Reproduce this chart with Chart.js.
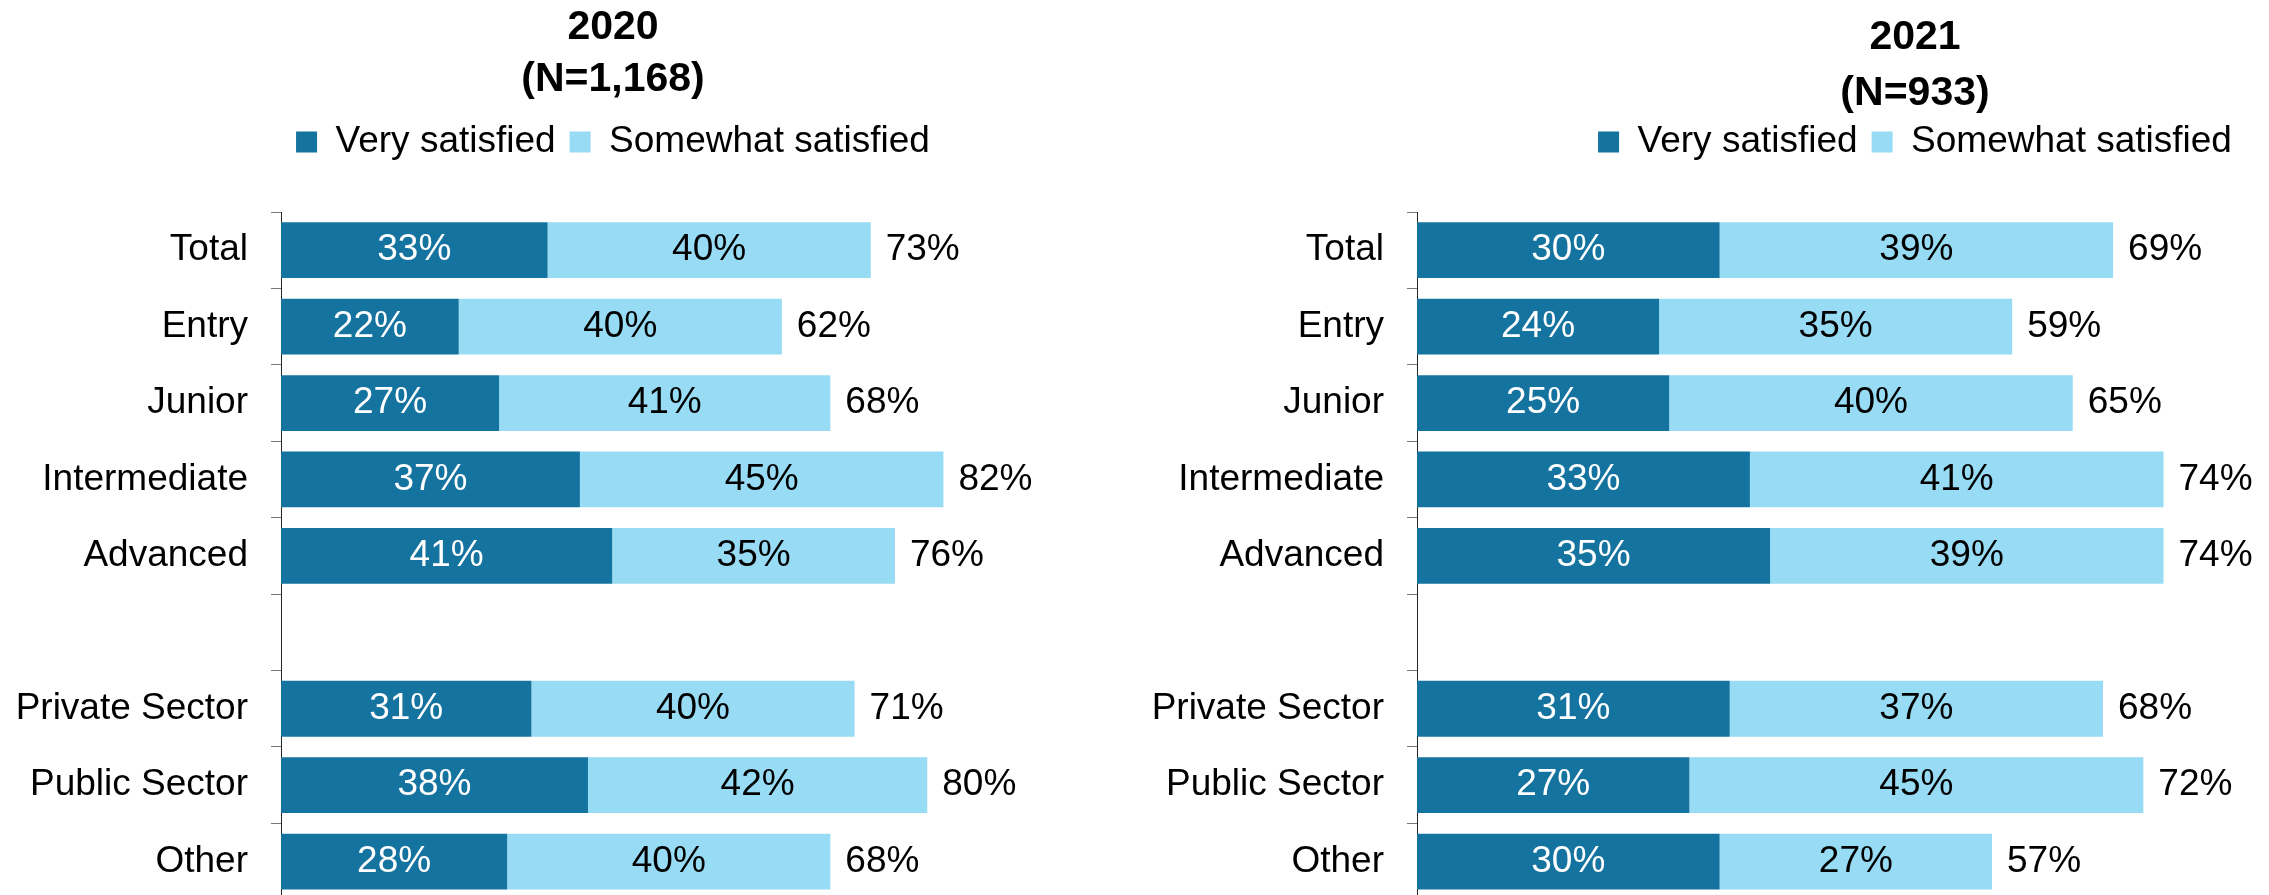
<!DOCTYPE html>
<html>
<head>
<meta charset="utf-8">
<title>Satisfaction 2020 vs 2021</title>
<script src="https://cdn.jsdelivr.net/npm/chart.js@4.4.1/dist/chart.umd.min.js"></script>
<style>
  html, body { margin: 0; padding: 0; background: #fff; overflow: hidden; width: 2269px; height: 895px; }
  canvas { position: absolute; top: 0; }
  #chart-2020 { left: 0; }
  #chart-2021 { left: 1152px; }
</style>
</head>
<body>
<!-- canvases are taller than the page: the axis runs off the bottom edge like in the original -->
<canvas id="chart-2020" width="1210" height="945"></canvas>
<canvas id="chart-2021" width="1526" height="945"></canvas>
<script>
const categories = ["Total", "Entry", "Junior", "Intermediate", "Advanced", "", "Private Sector", "Public Sector", "Other"];
const seriesNames = ["Very satisfied", "Somewhat satisfied"];

const verySatisfied2020 = [33, 22, 27, 37, 41, null, 31, 38, 28];
const somewhatSatisfied2020 = [40, 40, 41, 45, 35, null, 40, 42, 40];
const total2020 = [73, 62, 68, 82, 76, null, 71, 80, 68];

const verySatisfied2021 = [30, 24, 25, 33, 35, null, 31, 27, 30];
const somewhatSatisfied2021 = [39, 35, 40, 41, 39, null, 37, 45, 27];
const total2021 = [69, 59, 65, 74, 74, null, 68, 72, 57];

const DARK = "#15739f";
const LIGHT = "#97dbf5";
const FONT = "'Liberation Sans', Arial, sans-serif";

Chart.defaults.font.family = FONT;
Chart.defaults.color = "#000";

// draws the % inside each segment and the total after the bar
function barLabels(totals) {
  return {
    id: "barLabels",
    afterDatasetsDraw(chart) {
      const ctx = chart.ctx;
      ctx.save();
      ctx.font = `37px ${FONT}`;
      ctx.textBaseline = "middle";
      chart.data.datasets.forEach((ds, i) => {
        const meta = chart.getDatasetMeta(i);
        meta.data.forEach((bar, j) => {
          const v = ds.data[j];
          if (v === null || v === undefined) return;
          ctx.fillStyle = i === 0 ? "#fff" : "#000";
          ctx.textAlign = "center";
          ctx.fillText(v + "%", (bar.x + bar.base) / 2, bar.y);
        });
      });
      const last = chart.getDatasetMeta(chart.data.datasets.length - 1);
      totals.forEach((t, j) => {
        if (t === null) return;
        const bar = last.data[j];
        ctx.fillStyle = "#000";
        ctx.textAlign = "left";
        ctx.fillText(t + "%", bar.x + 15, bar.y);
      });
      ctx.restore();
    },
  };
}

function makeChart(id, titleLines, very, somewhat, totals, layout) {
  return new Chart(document.getElementById(id), {
    type: "bar",
    data: {
      labels: categories,
      datasets: [
        { label: seriesNames[0], data: very, backgroundColor: DARK, borderWidth: 0 },
        { label: seriesNames[1], data: somewhat, backgroundColor: LIGHT, borderWidth: 0 },
      ],
    },
    plugins: [barLabels(totals)],
    options: {
      indexAxis: "y",
      responsive: false,
      animation: false,
      events: [],
      datasets: { bar: { barPercentage: 0.73, categoryPercentage: 1 } },
      layout: { padding: { left: layout.padLeft, right: 0, top: 0, bottom: 0 } },
      plugins: {
        tooltip: { enabled: false },
        title: {
          display: true,
          text: titleLines,
          color: "#000",
          font: { size: 41, weight: "bold", lineHeight: layout.titleLineHeight },
          padding: layout.titlePadding,
        },
        legend: {
          display: true,
          labels: { boxWidth: 21, boxHeight: 21, padding: 14, color: "#000", font: { size: 37 } },
        },
      },
      scales: {
        x: {
          stacked: true,
          min: 0,
          // wider than 100 so the title and legend centre where they sit in the original
          max: layout.xMax,
          position: "top",
          grid: { display: false },
          border: { display: false },
          ticks: { display: false },
          afterFit(scale) { scale.height = 41.5; },
        },
        y: {
          stacked: true,
          grid: { display: true, drawOnChartArea: false, drawTicks: true, tickLength: 10, color: "#7a7a7a", offset: true },
          border: { display: true, color: "#262626", width: 1 },
          ticks: { color: "#000", font: { size: 37 }, padding: 23, autoSkip: false },
          afterFit(scale) { scale.width = 265; },
        },
      },
    },
  });
}

makeChart("chart-2020", ["2020", "(N=1,168)"], verySatisfied2020, somewhatSatisfied2020, total2020, {
  padLeft: 16, xMax: 115, titleLineHeight: 52 / 41, titlePadding: { top: 2, bottom: 3.5 },
});
makeChart("chart-2021", ["2021", "(N=933)"], verySatisfied2021, somewhatSatisfied2021, total2021, {
  padLeft: 0, xMax: 125, titleLineHeight: 56 / 41, titlePadding: { top: 10, bottom: -12.5 },
});
</script>
</body>
</html>
